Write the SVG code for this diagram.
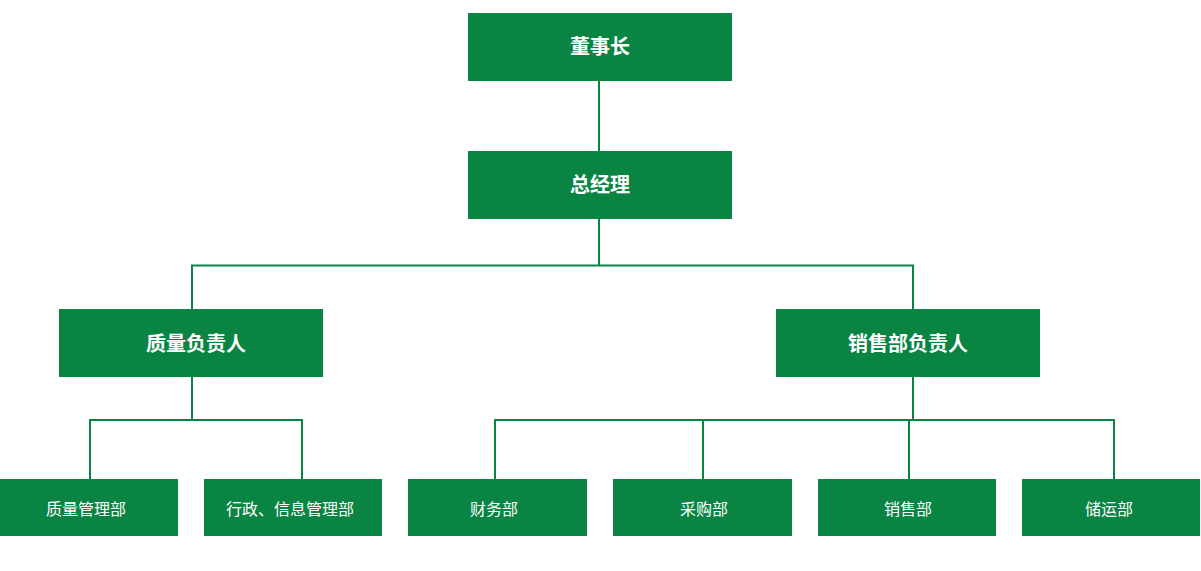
<svg xmlns="http://www.w3.org/2000/svg" width="1201" height="571" viewBox="0 0 1201 571">
<style>
.box{fill:#0a8443}
.t1{fill:#fff;font-family:"Noto Sans CJK SC","Liberation Sans",sans-serif;font-size:20px;font-weight:bold;text-anchor:middle;dominant-baseline:central}
.t2{fill:#fff;font-family:"Noto Sans CJK SC","Liberation Sans",sans-serif;font-size:16px;text-anchor:middle;dominant-baseline:central}
.ln{fill:none;stroke:#0a8443;stroke-width:2}
</style>
<rect width="1201" height="571" fill="#fff"/>
<g id="connectors">
<path class="ln" d="M599 81V151"/>
<path class="ln" d="M599 219V265.5M192 309V265.5H913V309"/>
<path class="ln" d="M192 377V420M90 479V420H302V479"/>
<path class="ln" d="M913 377V420M495 479V420H1114V479M703 420V479M909 420V479"/>
</g>
<g id="n1"><rect class="box" x="468" y="13" width="264" height="68"/><text class="t1" x="600" y="45.5">董事长</text></g>
<g id="n2"><rect class="box" x="468" y="151" width="264" height="68"/><text class="t1" x="600" y="183.5">总经理</text></g>
<g id="n3"><rect class="box" x="59" y="309" width="264" height="68"/><text class="t1" x="196" y="342">质量负责人</text></g>
<g id="n4"><rect class="box" x="776" y="309" width="264" height="68"/><text class="t1" x="908" y="342">销售部负责人</text></g>
<g id="n5"><rect class="box" x="0" y="479" width="178" height="57"/><text class="t2" x="86" y="508">质量管理部</text></g>
<g id="n6"><rect class="box" x="204" y="479" width="178" height="57"/><text class="t2" x="290" y="508">行政、信息管理部</text></g>
<g id="n7"><rect class="box" x="408" y="479" width="179" height="57"/><text class="t2" x="494" y="508">财务部</text></g>
<g id="n8"><rect class="box" x="613" y="479" width="179" height="57"/><text class="t2" x="704" y="508">采购部</text></g>
<g id="n9"><rect class="box" x="818" y="479" width="178" height="57"/><text class="t2" x="908" y="508">销售部</text></g>
<g id="n10"><rect class="box" x="1022" y="479" width="178" height="57"/><text class="t2" x="1109" y="508">储运部</text></g>
</svg>
